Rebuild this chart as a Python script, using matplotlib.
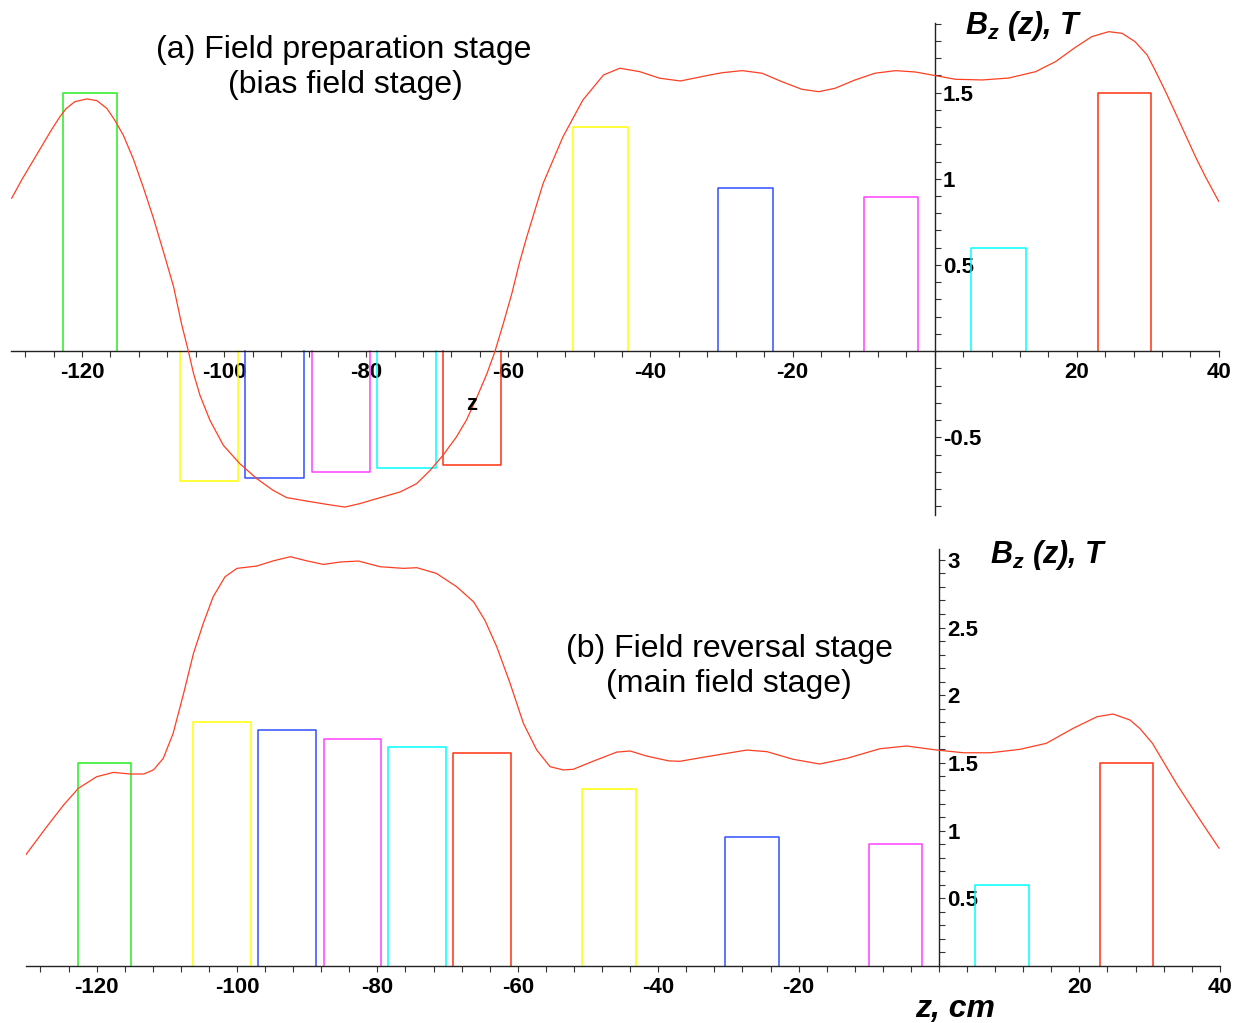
import matplotlib
matplotlib.use('Agg')
import matplotlib.pyplot as plt
from matplotlib.ticker import FixedLocator, MultipleLocator

plt.rcParams['font.family'] = ['Liberation Sans', 'DejaVu Sans']
plt.rcParams['mathtext.fontset'] = 'custom'
plt.rcParams['mathtext.it'] = 'Liberation Sans:italic:bold'
plt.rcParams['mathtext.rm'] = 'Liberation Sans:bold'

# coil edges along z, cm (same coil set for both stages)
coil_start = [-122.7, -106.2, -97.0, -87.6, -78.5, -69.2, -50.9, -30.5, -10.0, 5.1, 23.0]
coil_end = [-115.1, -98.0, -88.7, -79.5, -70.2, -61.0, -43.2, -22.8, -2.4, 12.8, 30.5]
coil_colors = ['#22ee22', '#ffff00', '#3050ff', '#ff40ff', '#00ffff', '#ff3010',
               '#ffff00', '#3050ff', '#ff40ff', '#00ffff', '#ff3010']

# coil levels, T
coil_level_bias = [1.50, -0.755, -0.733, -0.702, -0.679, -0.66, 1.30, 0.948, 0.896, 0.598, 1.50]
coil_level_main = [1.50, 1.80, 1.743, 1.68, 1.62, 1.57, 1.305, 0.95, 0.90, 0.60, 1.50]

# on-axis field, bias field stage
z_bias = [-129.9, -128.5, -127.1, -125.7, -124.3, -123.1, -122.2, -121.0, -119.3, -117.9,
          -116.5, -115.4, -114.2, -112.8, -111.4, -110.0, -108.6, -107.1, -106.0, -105.0,
          -104.3, -103.4, -102.0, -100.1, -97.8, -95.4, -93.1, -91.2, -88.4, -85.6,
          -83.0, -80.9, -78.5, -75.2, -72.9, -71.0, -69.2, -67.3, -65.9, -64.5,
          -63.0, -61.9, -60.7, -59.5, -58.4, -57.4, -55.1, -52.3, -49.5, -46.6,
          -44.3, -41.5, -38.7, -35.8, -31.6, -29.9, -27.1, -24.3, -21.5, -18.7,
          -16.3, -14.0, -11.2, -8.4, -5.5, -2.7, 0.1, 2.9, 6.7, 10.4,
          14.2, 17.0, 19.8, 22.1, 24.5, 26.4, 28.2, 29.9, 31.0, 32.5,
          33.9, 35.3, 36.7, 38.1, 40.0]
bz_bias = [0.886, 0.992, 1.089, 1.186, 1.283, 1.360, 1.408, 1.447, 1.463, 1.453,
           1.408, 1.341, 1.254, 1.118, 0.954, 0.779, 0.586, 0.373, 0.161, -0.004,
           -0.129, -0.255, -0.400, -0.546, -0.652, -0.739, -0.807, -0.849, -0.869, -0.888,
           -0.904, -0.884, -0.855, -0.816, -0.768, -0.691, -0.604, -0.497, -0.400, -0.275,
           -0.129, -0.004, 0.161, 0.335, 0.518, 0.663, 0.973, 1.244, 1.457, 1.602,
           1.641, 1.621, 1.583, 1.567, 1.602, 1.615, 1.627, 1.612, 1.563, 1.519,
           1.505, 1.525, 1.573, 1.612, 1.627, 1.619, 1.598, 1.577, 1.573, 1.584,
           1.621, 1.679, 1.762, 1.824, 1.853, 1.843, 1.795, 1.718, 1.631, 1.505,
           1.380, 1.254, 1.128, 1.012, 0.867]

# on-axis field, main field stage
z_main = [-130.1, -127.1, -124.7, -122.6, -120.0, -117.6, -115.2, -113.3, -111.9, -110.5,
          -109.1, -107.6, -106.2, -104.8, -103.4, -101.7, -100.0, -97.2, -94.8, -92.4,
          -90.1, -87.7, -85.3, -82.7, -79.6, -76.3, -74.4, -71.6, -68.7, -66.3,
          -64.7, -63.0, -61.1, -59.2, -57.3, -55.4, -53.5, -52.1, -49.2, -45.9,
          -44.0, -41.6, -38.5, -36.9, -33.1, -27.4, -24.5, -20.8, -17.0, -13.1,
          -8.4, -4.6, -0.3, 3.5, 7.3, 11.5, 15.3, 19.1, 22.5, 24.8,
          27.2, 28.6, 30.4, 33.8, 37.2, 39.9]
bz_main = [0.820, 1.029, 1.189, 1.312, 1.398, 1.430, 1.418, 1.418, 1.448, 1.534,
           1.718, 2.014, 2.309, 2.531, 2.727, 2.875, 2.937, 2.954, 2.993, 3.023,
           2.993, 2.966, 2.984, 2.991, 2.949, 2.937, 2.942, 2.900, 2.801, 2.690,
           2.555, 2.358, 2.088, 1.792, 1.595, 1.472, 1.448, 1.453, 1.514, 1.580,
           1.588, 1.550, 1.515, 1.512, 1.546, 1.595, 1.583, 1.527, 1.492, 1.534,
           1.605, 1.625, 1.595, 1.575, 1.575, 1.600, 1.645, 1.755, 1.841, 1.861,
           1.817, 1.755, 1.645, 1.349, 1.078, 0.869]

x_ticks = [-120, -100, -80, -60, -40, -20, 20, 40]
x_labels = ['-120', '-100', '-80', '-60', '-40', '-20', '20', '40']
y_ticks_bias = [-0.5, 0.5, 1, 1.5]
y_labels_bias = ['-0.5', '0.5', '1', '1.5']
y_ticks_main = [0.5, 1, 1.5, 2, 2.5, 3]
y_labels_main = ['0.5', '1', '1.5', '2', '2.5', '3']

W, H = 1243, 1023
fig = plt.figure(figsize=(W / 100, H / 100), dpi=100)


def px(x, y):
    # pixel position -> figure fraction
    return x / W, 1 - y / H


def setup_axes(ax, ylim, yticks, ylabels):
    ax.set_xlim(-130, 40)
    ax.set_ylim(*ylim)
    ax.patch.set_visible(False)
    ax.spines['top'].set_visible(False)
    ax.spines['left'].set_visible(False)
    ax.spines['bottom'].set_position(('data', 0))
    ax.spines['right'].set_position(('data', 0))
    for s in ['bottom', 'right']:
        ax.spines[s].set_linewidth(1.0)
        ax.spines[s].set_color('#222222')
    ax.yaxis.tick_right()
    ax.xaxis.set_major_locator(FixedLocator(x_ticks))
    ax.xaxis.set_minor_locator(MultipleLocator(4))
    ax.yaxis.set_major_locator(FixedLocator(yticks))
    ax.yaxis.set_minor_locator(MultipleLocator(0.1))
    ax.set_xticklabels(x_labels, fontsize=16, fontweight='bold')
    ax.set_yticklabels(ylabels, fontsize=16, fontweight='bold')
    ax.tick_params(axis='x', which='both', direction='out', length=4, width=0.8,
                   color='#333333', pad=4)
    ax.tick_params(axis='y', which='both', direction='out', length=4, width=0.8,
                   color='#333333', pad=2)


def draw_coils(ax, levels):
    for z0, z1, h, c in zip(coil_start, coil_end, levels, coil_colors):
        ax.plot([z0, z0, z1, z1], [0, h, h, 0], color=c, lw=1.1, zorder=2)


def draw_field(ax, z, bz):
    ax.plot(z, bz, color='#ff3f22', lw=0.9, zorder=3,
            solid_joinstyle='round', solid_capstyle='round')


# (a) bias field stage
ax1 = fig.add_axes([10.9 / W, 1 - 515 / H, 1208 / W, 492.3 / H])
setup_axes(ax1, (-0.95, 1.905), y_ticks_bias, y_labels_bias)
draw_coils(ax1, coil_level_bias)
draw_field(ax1, z_bias, bz_bias)

# (b) main field stage
ax2 = fig.add_axes([26.4 / W, 1 - 966 / H, 1193.4 / W, 417 / H])
setup_axes(ax2, (0, 3.08), y_ticks_main, y_labels_main)
draw_coils(ax2, coil_level_main)
draw_field(ax2, z_main, bz_main)

# captions
fig.text(*px(344, 58.3), '(a) Field preparation stage', ha='center', va='baseline', fontsize=23)
fig.text(*px(345, 93), '(bias field stage)', ha='center', va='baseline', fontsize=23)
fig.text(*px(729, 656.7), '(b) Field reversal stage', ha='center', va='baseline', fontsize=23)
fig.text(*px(729, 691.7), '(main field stage)', ha='center', va='baseline', fontsize=23)

# axis labels
fig.text(*px(965, 34.3), r'$B_z$ (z), T', ha='left', va='baseline', fontsize=22,
         fontweight='bold', style='italic')
fig.text(*px(990, 562.7), r'$B_z$ (z), T', ha='left', va='baseline', fontsize=22,
         fontweight='bold', style='italic')
fig.text(*px(955, 1016.7), 'z, cm', ha='center', va='baseline', fontsize=23,
         fontweight='bold', style='italic')
fig.text(*px(472, 410), 'z', ha='center', va='baseline', fontsize=16, fontweight='bold')

fig.savefig('out.png', dpi=100)
